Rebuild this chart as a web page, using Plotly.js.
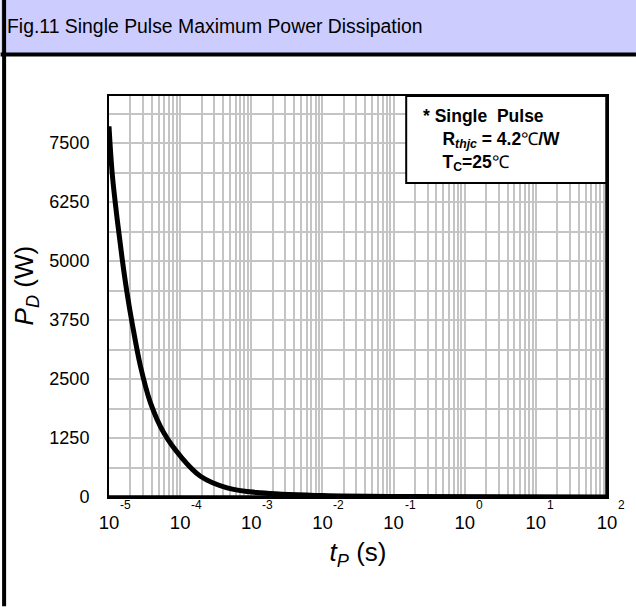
<!DOCTYPE html>
<html>
<head>
<meta charset="utf-8">
<script src="https://cdn.plot.ly/plotly-3.0.1.min.js"></script>
<style>
  html, body { margin: 0; padding: 0; background: #ffffff; }
  #chart { width: 636px; height: 607px; }
</style>
</head>
<body>
<div id="chart"></div>
<script>
// ---- Data ----
const pulseWidthS = [1e-5, 1.11e-5, 1.3e-5, 1.53e-5, 1.8e-5, 2.12e-5, 2.77e-5, 3.83e-5, 5.89e-5, 1.01e-4, 1.93e-4, 4.57e-4, 1.34e-3, 1e-2, 1.5e-1, 100];
const powerW      = [7857, 6855, 5901, 5054, 4312, 3676, 2772, 1996, 1360, 865, 441, 195, 89, 30, 10, 2];

// ---- Tick labels ----
const decadeExponents = [-5, -4, -3, -2, -1, 0, 1, 2];
const decadeExpLabels = ['-5', '-4', '-3', '-2', '-1', '0', '1', '2'];
const yTickLabels = ['0', '1250', '2500', '3750', '5000', '6250', '7500'];
const yGridStep = 625;
const yMax = 8500;

// ---- Layout geometry ----
const W = 636, H = 607;
const ML = 108.5, MR = 29, MT = 96, MB = 109.5;
const PW = W - ML - MR, PH = H - MT - MB;
const px = v => (v - ML) / PW;            // pixel x -> paper x
const py = v => (H - MB - v) / PH;        // pixel y -> paper y

// x tick values: every 1..9 per decade, labels only at decades
const xTickVals = [], xTickText = [];
decadeExponents.forEach((d, i) => {
  const mMax = (i === decadeExponents.length - 1) ? 1 : 9;
  for (let m = 1; m <= mMax; m++) {
    xTickVals.push(m * Math.pow(10, d));
    xTickText.push(m === 1 ? '10' : '');
  }
});
// y tick values every 625, labels every 1250
const yTickVals = [], yTickText = [];
for (let v = 0; v < yMax; v += yGridStep) {
  yTickVals.push(v);
  const k = v / 1250;
  yTickText.push(Number.isInteger(k) ? yTickLabels[k] : '');
}

const FONT = 'Arial, "Liberation Sans", sans-serif';

const trace = {
  x: pulseWidthS,
  y: powerW,
  type: 'scatter',
  mode: 'lines',
  line: { color: '#000000', width: 5, shape: 'spline', smoothing: 1.0 },
  hoverinfo: 'x+y'
};

const annotations = decadeExpLabels.map((t, i) => ({
  text: t, xref: 'x', yref: 'paper', x: decadeExponents[i], y: 0,
  xanchor: 'left', yanchor: 'top', xshift: 9, yshift: 1,
  showarrow: false, font: { family: FONT, size: 12, color: '#000' }
}));

annotations.push({
  xref: 'paper', yref: 'paper', x: px(421), y: py(104),
  xanchor: 'left', yanchor: 'top', align: 'left', showarrow: false,
  font: { family: FONT, size: 17.5, color: '#000' },
  text: '<b>* Single  Pulse</b><br>' +
        '&nbsp;&nbsp;&nbsp;&nbsp;<b>R<sub><i>thjc</i></sub> = 4.2</b>℃<b>/W</b><br>' +
        '&nbsp;&nbsp;&nbsp;&nbsp;<b>T<sub>C</sub>=25</b>℃'
});

const shapes = [
  // title bar background
  { type: 'rect', xref: 'paper', yref: 'paper', x0: px(0), x1: px(W), y0: py(53), y1: py(0),
    fillcolor: '#ccccff', line: { width: 0 }, layer: 'below' },
  // title bar bottom rule
  { type: 'line', xref: 'paper', yref: 'paper', x0: px(0), x1: px(W), y0: py(54.5), y1: py(54.5),
    line: { color: '#000', width: 4 } },
  // outer left border
  { type: 'line', xref: 'paper', yref: 'paper', x0: px(3.5), x1: px(3.5), y0: py(0), y1: py(H),
    line: { color: '#000', width: 4 } },
  // note box
  { type: 'rect', xref: 'paper', yref: 'paper', x0: px(406), x1: 1, y0: py(183), y1: 1,
    fillcolor: '#ffffff', line: { color: '#000', width: 2 }, layer: 'above' },
  // heavier right / bottom frame edges
  { type: 'line', xref: 'paper', yref: 'paper', x0: 1, x1: 1, y0: 0, y1: 1,
    line: { color: '#000', width: 3.5 } },
  { type: 'line', xref: 'paper', yref: 'paper', x0: 0, x1: 1, y0: 0, y1: 0,
    line: { color: '#000', width: 3.5 } }
];

const layout = {
  width: W, height: H,
  margin: { l: ML, r: MR, t: MT, b: MB, pad: 0 },
  paper_bgcolor: '#ffffff',
  plot_bgcolor: '#ffffff',
  showlegend: false,
  font: { family: FONT, color: '#000' },
  title: {
    text: 'Fig.11 Single Pulse Maximum Power Dissipation',
    xref: 'container', yref: 'container',
    x: 7 / W, xanchor: 'left', y: 1 - 26 / H, yanchor: 'middle',
    font: { family: FONT, size: 19.4, color: '#000' }
  },
  xaxis: {
    type: 'log', range: [-5, 2],
    tickmode: 'array', tickvals: xTickVals, ticktext: xTickText,
    ticks: '', ticklabelstandoff: 8,
    tickfont: { family: FONT, size: 18.5, color: '#000' },
    showgrid: true, gridcolor: '#c4c4c4', gridwidth: 2,
    showline: true, linecolor: '#000', linewidth: 2, mirror: true,
    zeroline: false, fixedrange: true,
    title: { text: '<i>t<sub>P</sub></i> (s)', standoff: 11,
             font: { family: FONT, size: 26, color: '#000' } }
  },
  yaxis: {
    range: [0, yMax],
    tickmode: 'array', tickvals: yTickVals, ticktext: yTickText,
    ticks: '', ticklabelstandoff: 14,
    tickfont: { family: FONT, size: 18, color: '#000' },
    showgrid: true, gridcolor: '#c4c4c4', gridwidth: 2,
    showline: true, linecolor: '#000', linewidth: 2, mirror: true,
    zeroline: false, fixedrange: true,
    title: { text: '&nbsp;&nbsp;&nbsp;<i>P<sub>D</sub></i> (W)', standoff: 8,
             font: { family: FONT, size: 26, color: '#000' } }
  },
  shapes: shapes,
  annotations: annotations
};

Plotly.newPlot('chart', [trace], layout, { displayModeBar: false, staticPlot: true });
</script>
</body>
</html>
